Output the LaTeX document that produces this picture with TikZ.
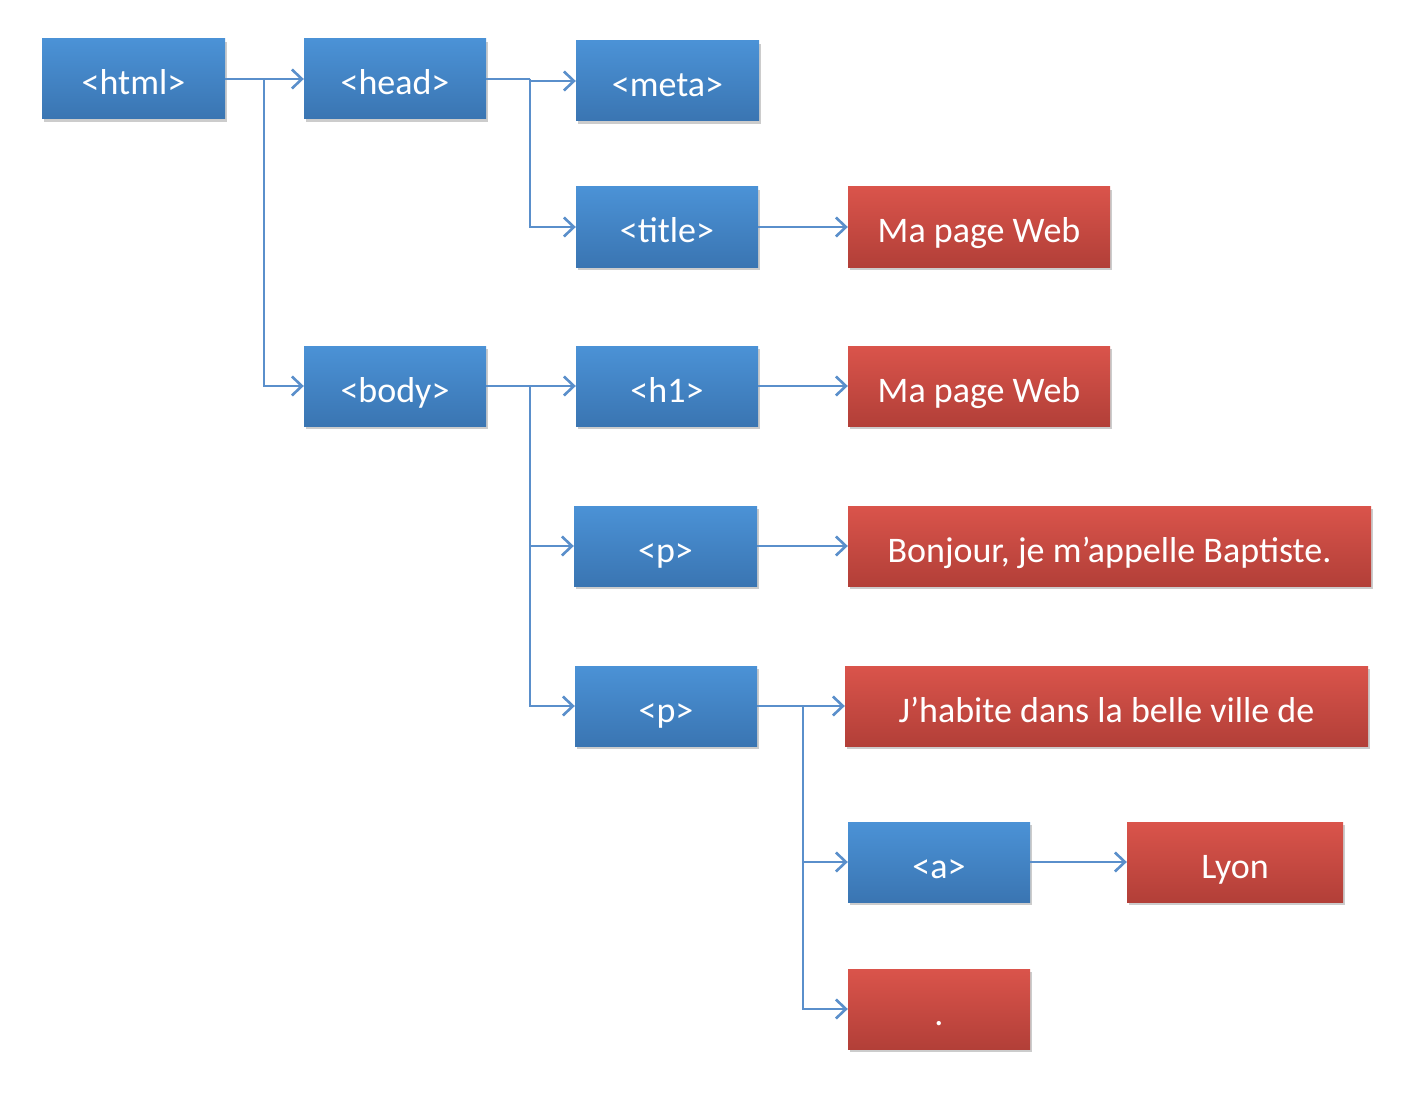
\documentclass[tikz,border=0pt]{standalone}
\usepackage{fontspec}
\setmainfont{Carlito}
\usetikzlibrary{arrows.meta,shadows}
\definecolor{bluetop}{HTML}{4B92D6}
\definecolor{bluebot}{HTML}{3A75B2}
\definecolor{redtop}{HTML}{DA544B}
\definecolor{redbot}{HTML}{B23F38}
\definecolor{linec}{HTML}{5A8FCB}
\tikzset{
  bbox/.style={minimum height=80pt, inner sep=0pt, text=white,
    font=\fontsize{36}{42}\selectfont, text height=32pt, text depth=0pt,
    top color=bluetop, bottom color=bluebot,
    drop shadow={shadow xshift=1.5pt, shadow yshift=-3pt, opacity=0.4, fill=black!50}},
  rbox/.style={bbox, top color=redtop, bottom color=redbot},
  conn/.style={draw=linec, line width=2.6pt},
  arr/.style={conn, -{Straight Barb[length=10pt,width=19pt,line width=2.6pt]}},
}
\begin{document}
\begin{tikzpicture}[x=1pt,y=-1pt]
\useasboundingbox (0,0) rectangle (1424,1094);
\fill[white] (0,0) rectangle (1424,1094);
% nodes: centre, width
\node[bbox, minimum width=183pt] (html)  at (133.5,79) {<html>};
\node[bbox, minimum width=182pt] (head)  at (395,79) {<head>};
\node[bbox, minimum width=183pt] (meta)  at (667.5,81) {<meta>};
\node[bbox, minimum width=182pt] (title) at (667,227) {<title>};
\node[rbox, minimum width=262pt] (t1)    at (979,227) {Ma page Web};
\node[bbox, minimum width=182pt] (body)  at (395,386) {<body>};
\node[bbox, minimum width=182pt] (h1)    at (667,386) {<h1>};
\node[rbox, minimum width=262pt] (t2)    at (979,386) {Ma page Web};
\node[bbox, minimum width=183pt] (p1)    at (665.5,546) {<p>};
\node[rbox, minimum width=523pt] (t3)    at (1109.5,546) {Bonjour, je m’appelle Baptiste.};
\node[bbox, minimum width=182pt] (p2)    at (666,706) {<p>};
\node[rbox, minimum width=523pt] (t4)    at (1106.5,706) {J’habite dans la belle ville de};
\node[bbox, minimum width=182pt] (a)     at (939,862) {<a>};
\node[rbox, minimum width=216pt] (t5)    at (1235,862) {Lyon};
\node[rbox, minimum width=182pt] (t6)    at (939,1009) {.};
% junctions
\coordinate (j1) at (264,79);
\coordinate (j2) at (530,79);
\coordinate (j3) at (530,386);
\coordinate (j4) at (803,706);
% connectors
\draw[conn] (html.east) -- (j1);
\draw[arr] (j1) -- (head.west);
\draw[arr] (j1) |- (body.west);
\draw[conn] (head.east) -- (j2);
\draw[arr] (j2) |- (meta.west);
\draw[arr] (j2) |- (title.west);
\draw[arr] (title.east) -- (t1.west);
\draw[conn] (body.east) -- (j3);
\draw[arr] (j3) -- (h1.west);
\draw[arr] (j3) |- (p1.west);
\draw[arr] (j3) |- (p2.west);
\draw[arr] (h1.east) -- (t2.west);
\draw[arr] (p1.east) -- (t3.west);
\draw[conn] (p2.east) -- (j4);
\draw[arr] (j4) -- (t4.west);
\draw[arr] (j4) |- (a.west);
\draw[arr] (j4) |- (t6.west);
\draw[arr] (a.east) -- (t5.west);
\end{tikzpicture}
\end{document}
